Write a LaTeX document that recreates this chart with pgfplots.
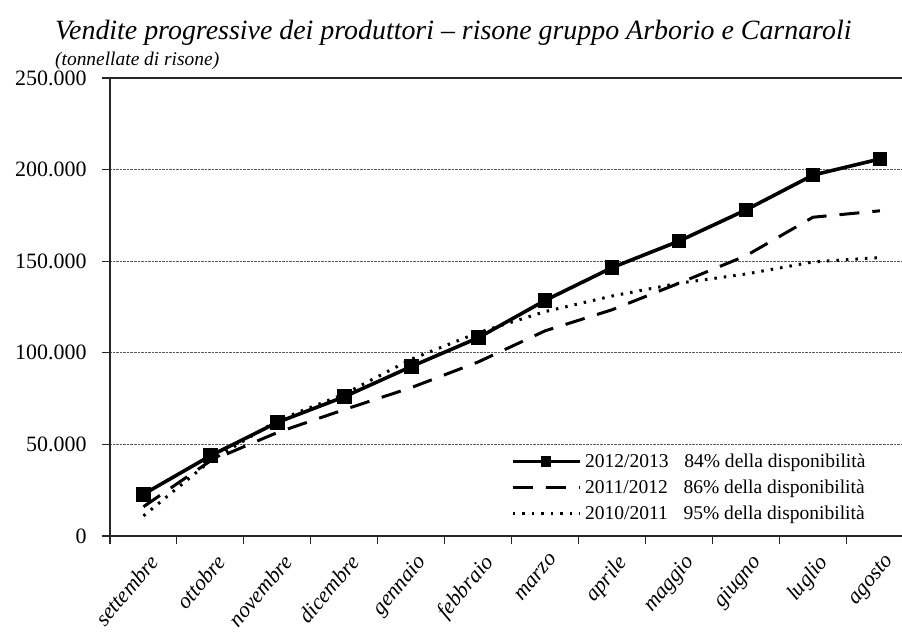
\documentclass[border=0pt]{standalone}
\usepackage{pgfplots}
\pgfplotsset{compat=1.18}
\usepackage{fontspec}
\setmainfont{Liberation Serif}
\begin{document}
\begin{tikzpicture}
\begin{axis}[
  scale only axis,
  width=792bp, height=458bp,
  at={(0,0)}, anchor=south west,
  xmin=-0.5, xmax=11.33,
  ymin=0, ymax=250000,
  axis lines=left,
  axis line style={-, line width=1.3bp, black!85},
  tick align=outside,
  major tick length=8bp,
  tick style={line width=1.1bp, black!85},
  xtick={-0.5,0.5,...,10.5},
  xticklabels={},
  extra x ticks={0,...,11},
  extra x tick labels={settembre,ottobre,novembre,dicembre,gennaio,febbraio,marzo,aprile,maggio,giugno,luglio,agosto},
  extra x tick style={major tick length=0pt,
    xticklabel style={rotate=50, anchor=north east, inner sep=0pt, xshift=-10bp, yshift=-14bp,
    font=\itshape\fontsize{22}{22}\selectfont}},
  ytick={0,50000,...,200000},
  extra y ticks={250000},
  extra y tick style={ymajorgrids=true, major grid style={solid, black!85, line width=1.2bp}},
  ymajorgrids=true,
  major grid style={densely dotted, gray!70!black, line width=1.2bp},
  scaled y ticks=false,
  yticklabel={\pgfmathprintnumber[fixed, precision=0, 1000 sep={.}, assume math mode=true]{\tick}},
  yticklabel style={font=\fontsize{22}{22}\selectfont, xshift=-12bp},
  clip=false,
  legend cell align=left,
  legend style={draw=none, fill=none, at={(0.956,0.028)}, anchor=south east,
    font=\fontsize{19.6}{19.6}\selectfont, row sep=8.2bp, inner sep=0pt,
    nodes={inner sep=1.5bp}},
  legend image code/.code={\draw[mark repeat=2,mark phase=2,#1,mark size=3.5bp] plot coordinates {(0bp,0bp) (33bp,0bp) (67bp,0bp)};},
]
\addplot[black, line width=3.6bp, mark=square*, mark size=5.5bp, mark options={solid}]
 coordinates {(0,22800) (1,43800) (2,62000) (3,76000) (4,92500) (5,108200) (6,128600) (7,146500) (8,161000) (9,178000) (10,197000) (11,205800)};
\addlegendentry{\hspace{2bp}2012/2013\hspace{0.8em}84\% della disponibilità}
\addplot[black, line width=3bp, dash pattern=on 20bp off 13bp]
 coordinates {(0,16000) (1,41000) (2,56500) (3,69000) (4,81000) (5,95000) (6,112000) (7,123500) (8,138000) (9,153000) (10,174000) (11,177500)};
\addlegendentry{\hspace{2bp}2011/2012\hspace{0.8em}86\% della disponibilità}
\addplot[black, line width=3bp, dash pattern=on 2.5bp off 7bp]
 coordinates {(0,11000) (1,41000) (2,63000) (3,77500) (4,96500) (5,111000) (6,122500) (7,131000) (8,138000) (9,143000) (10,149600) (11,152000)};
\addlegendentry{\hspace{2bp}2010/2011\hspace{0.8em}95\% della disponibilità}
\end{axis}
\node[anchor=base west, inner sep=0pt, font=\itshape\fontsize{28}{28}\selectfont] at (-55bp,496bp)
 {Vendite progressive dei produttori -- risone gruppo Arborio e Carnaroli};
\node[anchor=base west, inner sep=0pt, font=\itshape\fontsize{19.5}{19.5}\selectfont] at (-55bp,470bp)
 {(tonnellate di risone)};
\pgfresetboundingbox
\path (-110bp,-96bp) rectangle (792bp,536bp);
\end{tikzpicture}
\end{document}
